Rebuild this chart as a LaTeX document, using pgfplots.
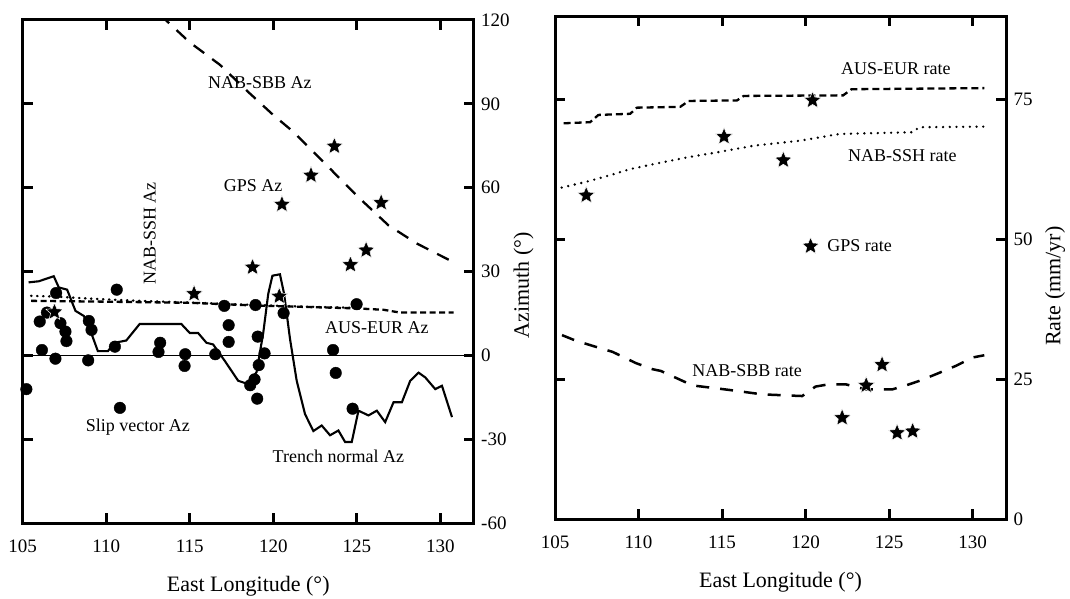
\documentclass[border=0pt]{standalone}
\usepackage{fontspec}
\setmainfont{Liberation Serif}
\usepackage{pgfplots}
\pgfplotsset{compat=1.18}

% filled five-pointed star
\pgfdeclareplotmark{fstar}{%
  \pgfpathmoveto{\pgfpointpolar{90}{\pgfplotmarksize}}%
  \pgfpathlineto{\pgfpointpolar{126}{0.45\pgfplotmarksize}}%
  \pgfpathlineto{\pgfpointpolar{162}{\pgfplotmarksize}}%
  \pgfpathlineto{\pgfpointpolar{198}{0.45\pgfplotmarksize}}%
  \pgfpathlineto{\pgfpointpolar{234}{\pgfplotmarksize}}%
  \pgfpathlineto{\pgfpointpolar{270}{0.45\pgfplotmarksize}}%
  \pgfpathlineto{\pgfpointpolar{306}{\pgfplotmarksize}}%
  \pgfpathlineto{\pgfpointpolar{342}{0.45\pgfplotmarksize}}%
  \pgfpathlineto{\pgfpointpolar{18}{\pgfplotmarksize}}%
  \pgfpathlineto{\pgfpointpolar{54}{0.45\pgfplotmarksize}}%
  \pgfpathclose
  \pgfusepathqfillstroke}

\tikzset{note/.style={font=\fontsize{18}{20}\selectfont}}

\pgfplotsset{
  every axis/.append style={
    scale only axis, width=451pt, height=503pt,
    xmin=105, xmax=132,
    axis line style={line width=3pt},
    tick style={line width=3pt, black},
    major tick length=10pt,
    xtick pos=both, ytick pos=both,
    xticklabel pos=lower, yticklabel pos=right,
    tick label style={font=\fontsize{19}{21}\selectfont},
    label style={font=\fontsize{22}{24}\selectfont},
    xtick={105,110,...,130},
    xticklabels={105,110,115,120,125,130},
    xticklabel style={yshift=-13pt},
    yticklabel style={xshift=4pt},
    xlabel={East Longitude (°)},
    xlabel style={at={(axis description cs:0.5,0)}, anchor=center, yshift=-63pt},
  },
  gps/.style={only marks, mark=fstar, mark size=9pt,
    mark options={fill=black, draw=white, line width=0.5pt}},
}

\begin{document}
\begin{tikzpicture}
\path[use as bounding box] (0,0) rectangle (1070pt,598pt);

% ---------------- azimuths ----------------
\begin{axis}[at={(22.7pt,75pt)}, anchor=south west,
  ymin=-60, ymax=120, ytick={-60,-30,...,120},
  yticklabels={-60,-30,0,30,60,90,120},
  ylabel={Azimuth (°)},
  ylabel style={at={(axis description cs:1,0.473)}, anchor=center, yshift=-50pt}]

\addplot[line width=1.2pt] coordinates {(105,0) (132,0)};

% NAB-SBB Az
\addplot[line width=2.3pt, dash pattern=on 13pt off 10pt] coordinates {
  (113.2,122) (115,112) (116.8,104) (118.6,93.7) (120,86) (121.2,80)
  (123.3,67.4) (125.2,56) (126.9,46.5) (128.6,40) (130.8,33.3)};

% NAB-SSH Az
\addplot[line width=2.4pt, line cap=round, dash pattern=on 0.5pt off 5.5pt] coordinates {
  (105.5,21.3) (107,21) (109,20.3) (112,19.5) (115,18.9) (119,18)
  (122,17.4) (125,17)};

% AUS-EUR Az
\addplot[line width=2.3pt, dash pattern=on 6pt off 3.5pt] coordinates {
  (105.5,19.5) (110,19.2) (115,18.8) (119,17.8) (125,16.8) (126.6,16.3)
  (127.6,15.3) (130.8,15.3)};

% trench normal Az
\addplot[line width=2.1pt] coordinates {
  (105.35,26.1) (105.96,26.5) (106.86,28.3) (107.16,24.3) (107.66,23.5)
  (108.16,15.9) (108.66,14.1) (109.06,8.7) (109.5,1.5) (110.1,1.5)
  (110.5,4.5) (111.2,5.3) (112.0,11.2) (114.5,11.2) (115.0,8.0)
  (115.5,8.0) (116.0,4.5) (116.4,3.9) (117.1,-2.0) (117.9,-9.1)
  (118.5,-10.3) (119.0,-6) (119.4,8) (119.7,22) (119.95,28.5)
  (120.4,29) (120.65,22) (121.0,6) (121.4,-9) (121.9,-21)
  (122.4,-27.1) (122.9,-25.1) (123.4,-28.6) (123.9,-26.9) (124.3,-31.0)
  (124.7,-31.0) (125.1,-19.8) (125.7,-21.5) (126.2,-19.8) (126.7,-23.9)
  (127.2,-16.8) (127.7,-16.8) (128.2,-9.1) (128.7,-6.2) (129.1,-7.9)
  (129.7,-12.1) (130.1,-10.9) (130.7,-22.1)};

% slip vector Az
\addplot[only marks, mark=*, mark size=5.8pt, black] coordinates {
  (110.63,23.5) (107.0,22.3) (106.02,12.1) (106.45,15.3) (107.26,11.5)
  (107.56,8.5) (107.62,5.1) (106.15,1.9) (106.96,-1.2) (108.96,12.3)
  (109.12,9.1) (108.92,-1.8) (105.22,-12.1) (110.52,3.1) (110.82,-18.8)
  (113.23,4.5) (113.13,1.2) (114.73,0.4) (114.69,-3.8) (116.53,0.4)
  (117.07,17.7) (117.33,10.8) (117.33,4.8) (118.94,18.0) (119.07,6.7)
  (119.48,0.7) (119.13,-3.5) (118.88,-8.6) (118.62,-10.7) (119.04,-15.5)
  (120.62,15.1) (124.99,18.3) (123.58,1.9) (123.74,-6.3) (124.75,-19.1)};

% GPS Az
\addplot[gps] coordinates {
  (106.9,15.5) (115.26,22.0) (118.76,31.5) (120.36,21.1) (120.52,54.0)
  (122.26,64.4) (123.66,74.8) (124.62,32.4) (125.56,37.6) (126.46,54.6)};

\node[note] at (axis cs:119.2,97.7) {NAB-SBB Az};
\node[note] at (axis cs:118.8,60.6) {GPS Az};
\node[note, rotate=90] at (axis cs:112.6,43.6) {NAB-SSH Az};
\node[note] at (axis cs:126.2,9.9) {AUS-EUR Az};
\node[note] at (axis cs:111.9,-25.8) {Slip vector Az};
\node[note] at (axis cs:123.9,-36.2) {Trench normal Az};
\end{axis}

% ---------------- rates ----------------
\begin{axis}[at={(555pt,79pt)}, anchor=south west,
  ymin=0, ymax=90, ytick={0,25,50,75},
  yticklabels={0,25,50,75},
  ylabel={Rate (mm/yr)},
  ylabel style={at={(axis description cs:1,0.463)}, anchor=center, yshift=-49pt}]

% AUS-EUR rate
\addplot[line width=2.3pt, dash pattern=on 7pt off 4pt] coordinates {
  (105.52,70.8) (107.1,71.0) (107.6,72.3) (109.5,72.5) (109.9,73.6)
  (112.5,73.75) (113.0,74.8) (115.9,74.9) (116.3,75.7) (122.25,75.8)
  (122.75,76.9) (130.7,77.1)};

% NAB-SSH rate
\addplot[line width=2.6pt, line cap=round, dash pattern=on 0pt off 6.7pt] coordinates {
  (105.4,59.3) (107.1,60.5) (108.5,61.7) (109.5,62.6) (110.9,63.5)
  (112.9,64.7) (114.7,65.6) (116.9,66.8) (119.7,67.7) (122.05,68.9)
  (126.4,69.2) (126.8,70.1) (130.7,70.2)};

% NAB-SBB rate
\addplot[line width=2.5pt, dash pattern=on 13pt off 11pt] coordinates {
  (105.42,32.9) (106.25,31.9) (107.45,30.8) (108.45,29.9) (109.84,27.9)
  (110.84,26.8) (111.33,26.5) (112.43,25.0) (113.23,23.9) (115.42,23.1)
  (117.41,22.3) (119.8,22.0) (120.6,23.7) (121.4,24.1) (122.4,24.1)
  (123.6,23.2) (125.2,23.2) (126.0,23.9) (126.8,24.7) (127.8,25.9)
  (129.0,27.4) (130.0,28.9) (130.7,29.3)};

% GPS rate
\addplot[gps] coordinates {
  (106.87,57.9) (115.12,68.4) (118.67,64.2) (120.42,74.9) (120.3,48.8)
  (124.58,27.6) (123.63,23.9) (122.19,18.1) (125.48,15.4) (126.41,15.7)};

\node[note] at (axis cs:125.4,80.6) {AUS-EUR rate};
\node[note] at (axis cs:125.8,65.1) {NAB-SSH rate};
\node[note, anchor=west] at (axis cs:121.1,48.9) {GPS rate};
\node[note] at (axis cs:116.5,26.5) {NAB-SBB rate};
\end{axis}
\end{tikzpicture}
\end{document}
